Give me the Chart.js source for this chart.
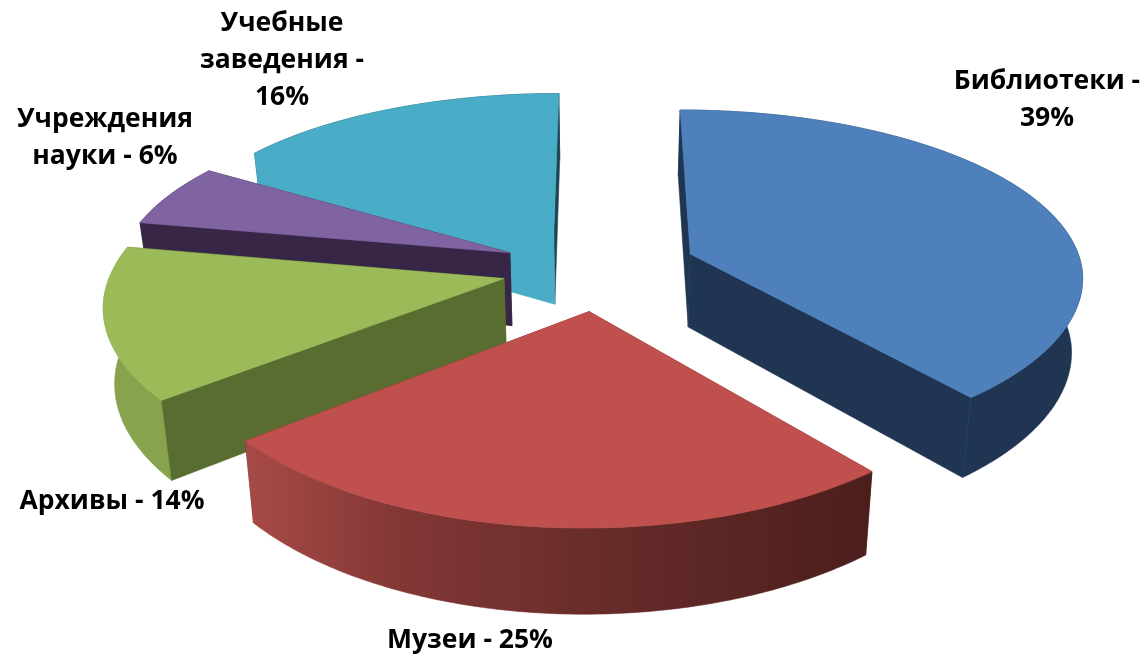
<!DOCTYPE html>
<html>
<head>
<meta charset="utf-8">
<style>
  html, body { margin: 0; padding: 0; background: #fff; }
  canvas { display: block; }
</style>
<script src="https://cdn.jsdelivr.net/npm/chart.js@4/dist/chart.umd.js"></script>
</head>
<body>
<canvas id="pie" width="1147" height="658"></canvas>
<script>
// data
const categories = ['Библиотеки', 'Музеи', 'Архивы', 'Учреждения науки', 'Учебные заведения'];
const shares = [39, 25, 14, 6, 16];
const topColors = ['#4e80bc', '#c0504d', '#9bbb59', '#8064a2', '#49adc8'];

// label layout: word count on each line, and where the block is centred
const labelLines = [[2, 1], [3], [3], [1, 3], [1, 2, 1]];
const labelSpots = [[1047, 81], [470, 640], [112, 501], [105, 119], [282, 23]];
const lineGap = 37;

// slice styling
const startWalls = ['#1f3552', '#6b2c2a', '#5a6d30', '#372645', '#49adc8'];
const endWalls = ['#1f3552', '#6b2c2a', '#5a6d30', '#372645', '#1e4652'];
const outerWalls = ['#1f3552', null, '#87a34d', '#372645', '#1e4652'];
const paintOrder = [4, 3, 2, 0, 1];

// view of the pie plane: stretch, squash, perspective, skew, thickness
const stretchX = 1.99, stretchY = 0.86, perspX = 0.127, perspY = 0.15, skew = -0.02;
const wallX = 0.977, wallY = 1.048, wallDrop = 73.7;

function flat(c, gx, gy, r) {
  const v = gy / r;
  return {
    x: c.x + stretchX * gx / (1 - perspX * v) + skew * Math.max(gy, 0),
    y: c.y + stretchY * gy / (1 - perspY * v)
  };
}
function sunk(c, p) {
  return { x: c.x + wallX * (p.x - c.x), y: c.y + wallY * (p.y - c.y) + wallDrop };
}
function fillPoly(ctx, pts, color) {
  ctx.beginPath();
  pts.forEach((p, i) => i ? ctx.lineTo(p.x, p.y) : ctx.moveTo(p.x, p.y));
  ctx.closePath();
  ctx.fillStyle = color;
  ctx.fill();
  ctx.strokeStyle = color;
  ctx.lineWidth = 0.6;
  ctx.stroke();
}

function drawSlice(ctx, arc, i) {
  const c = { x: arc.x, y: arc.y };
  const r = arc.outerRadius, mid = (arc.startAngle + arc.endAngle) / 2;
  const ox = Math.cos(mid) * arc.options.offset, oy = Math.sin(mid) * arc.options.offset;
  const apex = flat(c, ox, oy, r);
  const rim = [];
  const steps = Math.ceil((arc.endAngle - arc.startAngle) * 90);
  for (let s = 0; s <= steps; s++) {
    const a = arc.startAngle + (arc.endAngle - arc.startAngle) * s / steps;
    rim.push(flat(c, ox + Math.cos(a) * r, oy + Math.sin(a) * r, r));
  }
  const first = rim[0], last = rim[rim.length - 1];
  const rimWall = rim.concat(rim.map(p => sunk(c, p)).reverse());
  const xs = rim.map(p => p.x);

  let outerFill = outerWalls[i];
  if (!outerFill) {
    const g = ctx.createLinearGradient(Math.min(...xs), 0, Math.max(...xs), 0);
    g.addColorStop(0, '#a84a47');
    g.addColorStop(0.25, '#823735');
    g.addColorStop(0.6, '#652b29');
    g.addColorStop(1, '#4b1e1c');
    outerFill = g;
  }
  const walls = [
    { pts: [apex, first, sunk(c, first), sunk(c, apex)], color: startWalls[i], depth: (apex.y + first.y) / 2 },
    { pts: [apex, last, sunk(c, last), sunk(c, apex)], color: endWalls[i], depth: (apex.y + last.y) / 2 },
    { pts: rimWall, color: outerFill, depth: rim.reduce((n, p) => n + p.y, 0) / rim.length }
  ];
  walls.sort((a, b) => a.depth - b.depth).forEach(w => fillPoly(ctx, w.pts, w.color));
  fillPoly(ctx, [apex].concat(rim), arc.options.backgroundColor);
}

const pie3d = {
  id: 'pie3d',
  beforeDatasetsDraw(chart) {
    const ctx = chart.ctx, arcs = chart.getDatasetMeta(0).data;
    ctx.save();
    paintOrder.forEach(i => drawSlice(ctx, arcs[i], i));
    ctx.restore();
    return false;
  },
  afterDraw(chart) {
    const ctx = chart.ctx, labels = chart.data.labels;
    ctx.save();
    ctx.font = 'bold 26.5px "Open Sans"';
    ctx.fillStyle = '#000';
    ctx.textAlign = 'center';
    ctx.textBaseline = 'middle';
    labels.forEach((name, i) => {
      const words = (name + ' - ' + chart.data.datasets[0].data[i] + '%').split(' ');
      let at = 0;
      labelLines[i].forEach((n, k) => {
        ctx.fillText(words.slice(at, at + n).join(' '), labelSpots[i][0], labelSpots[i][1] + k * lineGap);
        at += n;
      });
    });
    ctx.restore();
  }
};

new Chart(document.getElementById('pie'), {
  type: 'pie',
  data: {
    labels: categories,
    datasets: [{ data: shares, backgroundColor: topColors, borderWidth: 0, offset: 49 }]
  },
  options: {
    responsive: false,
    animation: false,
    radius: 197,
    layout: { padding: { left: 52, bottom: 122 } },
    plugins: { legend: { display: false }, tooltip: { enabled: false } }
  },
  plugins: [pie3d]
});
</script>
</body>
</html>
